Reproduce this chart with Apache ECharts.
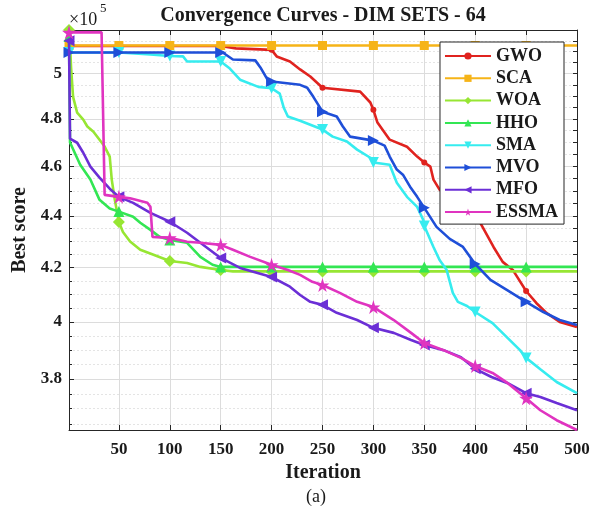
<!DOCTYPE html>
<html><head><meta charset="utf-8">
<script src="https://cdn.jsdelivr.net/npm/echarts@6/dist/echarts.min.js"></script>
<style>html,body{margin:0;padding:0;background:#fff}#c{width:601px;height:510px}</style>
</head><body><div id="c"></div><script>
// ---- data (values in units of 10^5) ----
const names = ['GWO','SCA','WOA','HHO','SMA','MVO','MFO','ESSMA'];
const colors = ['#e0231f','#f6b418','#97e633','#33e653','#36ecef','#1f4fd8','#6b2fd6','#e034c0'];
const xTicks = [50,100,150,200,250,300,350,400,450,500];
const yMajor = [3.8,4,4.2,4.4,4.6,4.8,5];
const yMinor = [3.65,3.7,3.75,3.85,3.9,3.95,4.05,4.1,4.15,4.25,4.3,4.35,4.45,4.5,4.55,4.65,4.7,4.75,4.85,4.9,4.95,5.05,5.1,5.15];
const markerIters = [1,50,100,150,200,250,300,350,400,450];

const GWO_it  = [1,50,100,150,165,200,205,218,228,238,250,287,297,300,304,316,333,343,350,356,359,365,400,405,418,427,437,440,450,460,470,483,500];
const GWO_val = [5.126,5.126,5.126,5.126,5.115,5.108,5.078,5.055,5.019,4.987,4.937,4.920,4.872,4.840,4.785,4.712,4.682,4.641,4.616,4.599,4.546,4.505,4.390,4.373,4.279,4.222,4.191,4.173,4.113,4.069,4.033,4.000,3.982];

const SCA_it  = [1,50,100,150,200,250,300,350,400,450,500];
const SCA_val = [5.128,5.128,5.128,5.128,5.128,5.128,5.128,5.128,5.128,5.128,5.128];

const WOA_it  = [1,2,3,5,9,15,19,25,31,36,41,43,46,50,54,61,71,84,100,117,130,150,162,200,250,300,350,400,450,500];
const WOA_val = [5.20,5.137,5.03,4.897,4.828,4.798,4.768,4.746,4.712,4.683,4.641,4.546,4.464,4.376,4.337,4.300,4.268,4.249,4.225,4.218,4.203,4.191,4.186,4.186,4.186,4.186,4.186,4.186,4.186,4.186];

const HHO_it  = [1,2,12,22,31,41,50,64,71,81,90,100,117,130,142,150,200,250,300,350,400,450,500];
const HHO_val = [5.17,4.70,4.607,4.546,4.464,4.429,4.417,4.397,4.373,4.345,4.318,4.306,4.295,4.241,4.211,4.203,4.203,4.203,4.203,4.203,4.203,4.203,4.203];

const SMA_it  = [1,50,81,100,113,117,150,159,169,187,200,208,212,216,228,250,260,274,284,297,300,316,323,333,343,349,350,359,365,372,378,383,392,400,417,431,444,450,464,480,500];
const SMA_val = [5.096,5.096,5.087,5.080,5.078,5.055,5.055,5.023,4.973,4.941,4.935,4.911,4.849,4.811,4.793,4.755,4.725,4.704,4.670,4.636,4.616,4.607,4.533,4.476,4.436,4.384,4.360,4.279,4.229,4.191,4.106,4.073,4.058,4.036,3.996,3.946,3.900,3.873,3.834,3.790,3.752];

const MVO_it  = [1,50,100,150,152,162,184,189,196,200,228,235,241,250,264,270,277,300,311,316,323,329,336,343,350,362,375,388,400,415,431,450,467,483,500];
const MVO_val = [5.096,5.096,5.096,5.096,5.096,5.064,5.060,5.028,4.973,4.965,4.950,4.937,4.897,4.832,4.811,4.768,4.725,4.708,4.687,4.641,4.587,4.566,4.517,4.476,4.432,4.357,4.310,4.279,4.214,4.154,4.117,4.073,4.036,4.007,3.989];

const MFO_it  = [1,2,9,15,22,31,41,50,64,81,100,117,130,150,169,200,218,228,238,250,264,284,300,320,337,350,369,386,400,416,432,450,464,480,500];
const MFO_val = [5.15,4.716,4.699,4.657,4.599,4.554,4.509,4.476,4.452,4.412,4.377,4.334,4.295,4.237,4.199,4.165,4.129,4.098,4.073,4.062,4.033,4.007,3.979,3.961,3.936,3.918,3.900,3.875,3.835,3.807,3.786,3.752,3.739,3.719,3.695];

const ESSMA_it  = [1,33,34,35,36,50,61,78,81,83,100,117,130,150,162,179,200,216,228,240,250,267,284,300,320,337,350,369,386,400,417,432,450,464,480,500];
const ESSMA_val = [5.189,5.189,4.941,4.941,4.484,4.476,4.470,4.452,4.436,4.318,4.314,4.299,4.295,4.287,4.268,4.241,4.211,4.191,4.173,4.147,4.135,4.106,4.073,4.054,4.007,3.961,3.925,3.900,3.873,3.845,3.821,3.786,3.735,3.695,3.662,3.630];

const Y_MIN = 3.63, Y_MAX = 5.2;

// ---- build ----
const its = [GWO_it,SCA_it,WOA_it,HHO_it,SMA_it,MVO_it,MFO_it,ESSMA_it];
const vals = [GWO_val,SCA_val,WOA_val,HHO_val,SMA_val,MVO_val,MFO_val,ESSMA_val];
const STAR = 'path://M50,0 L61,35 L98,35 L68,57 L79,91 L50,70 L21,91 L32,57 L2,35 L39,35 Z';
const symbols = ['circle','rect','diamond','triangle','triangle','triangle','triangle',STAR];
const symSizes = [6,9,12,11,11,11,11,14];
const symRot = [0,0,0,0,180,-90,90,0];
const SERIF = '"Liberation Serif","Times New Roman",serif';

const series = names.map((n,k)=>({
  name:n, type:'line', xAxisIndex:0, yAxisIndex:0,
  symbol:symbols[k], symbolSize:symSizes[k], symbolRotate:symRot[k],
  showAllSymbol:true, animation:false, clip:true,
  lineStyle:{color:colors[k], width:2.6},
  itemStyle:{color:colors[k], borderWidth:0},
  z: 2+k,
  data: its[k].map((x,i)=> markerIters.indexOf(x)>=0 ? {value:[x,vals[k][i]]} : {value:[x,vals[k][i]], symbol:'none'})
}));

const fmtY = v => String(parseFloat((+v).toFixed(2)));
const chart = echarts.init(document.getElementById('c'), null, {renderer:'canvas'});
chart.setOption({
  backgroundColor:'#fff',
  animation:false,
  grid:{left:69,right:24,top:30,bottom:80,containLabel:false,outerBoundsMode:'none'},
  xAxis:[
    {type:'value',position:'bottom',min:1,max:500,
     axisLine:{show:true,lineStyle:{color:'#262626',width:1}},
     axisTick:{show:true,inside:true,length:5,customValues:xTicks,lineStyle:{color:'#262626'}},
     axisLabel:{customValues:xTicks,margin:11,color:'#1a1a1a',fontFamily:SERIF,fontWeight:'bold',fontSize:17},
     splitLine:{show:true,lineStyle:{color:'#dcdcdc',width:1}},
     name:'Iteration',nameLocation:'middle',nameGap:32,
     nameTextStyle:{color:'#1a1a1a',fontFamily:SERIF,fontWeight:'bold',fontSize:20}},
    {type:'value',position:'top',min:1,max:500,
     axisLine:{show:true,lineStyle:{color:'#262626',width:1}},
     axisTick:{show:true,inside:true,length:5,customValues:xTicks,lineStyle:{color:'#262626'}},
     axisLabel:{show:false},splitLine:{show:false}}
  ],
  yAxis:[
    {type:'log',logBase:10,position:'left',min:Y_MIN,max:Y_MAX,
     axisLine:{show:true,lineStyle:{color:'#262626',width:1}},
     axisTick:{show:true,inside:true,length:5,customValues:yMajor,lineStyle:{color:'#262626'}},
     axisLabel:{customValues:yMajor,formatter:fmtY,margin:7,color:'#1a1a1a',fontFamily:SERIF,fontWeight:'bold',fontSize:17},
     splitLine:{show:true,lineStyle:{color:'#dcdcdc',width:1}},
     minorTick:{show:false},minorSplitLine:{show:false},
     name:'Best score',nameLocation:'middle',nameGap:37,
     nameTextStyle:{color:'#1a1a1a',fontFamily:SERIF,fontWeight:'bold',fontSize:20}},
    {type:'log',logBase:10,position:'left',min:Y_MIN,max:Y_MAX,
     axisLine:{show:false},
     axisTick:{show:true,inside:true,length:3,customValues:yMinor,lineStyle:{color:'#262626'}},
     axisLabel:{show:false,customValues:yMinor},
     splitLine:{show:true,lineStyle:{color:'#e4e4e4',width:1,type:[2,2]}}},
    {type:'log',logBase:10,position:'right',min:Y_MIN,max:Y_MAX,
     axisLine:{show:true,lineStyle:{color:'#262626',width:1}},
     axisTick:{show:true,inside:true,length:4,customValues:yMajor.concat(yMinor),lineStyle:{color:'#262626'}},
     axisLabel:{show:false,customValues:yMajor.concat(yMinor)},splitLine:{show:false}}
  ],
  legend:{
    data:names, orient:'vertical', right:37, top:42,
    selectedMode:false,
    backgroundColor:'#fff', borderColor:'#262626', borderWidth:1,
    padding:[4,6,2,4], itemGap:2.3, itemWidth:46, itemHeight:9,
    textStyle:{color:'#1a1a1a',fontFamily:SERIF,fontWeight:'bold',fontSize:18,lineHeight:20},
    z:20
  },
  graphic:[
    {type:'text',x:323,y:16,z:30,style:{text:'Convergence Curves - DIM SETS - 64',font:'bold 20px '+SERIF,fill:'#1a1a1a',align:'center',verticalAlign:'middle'}},
    {type:'text',x:69,y:20,z:30,style:{text:'×10',font:'18px '+SERIF,fill:'#1a1a1a',align:'left',verticalAlign:'middle'}},
    {type:'text',x:100,y:9,z:30,style:{text:'5',font:'13px '+SERIF,fill:'#1a1a1a',align:'left',verticalAlign:'middle'}},
    {type:'text',x:316,y:497,z:30,style:{text:'(a)',font:'18px '+SERIF,fill:'#1a1a1a',align:'center',verticalAlign:'middle'}}
  ],
  series: series
});
</script></body></html>
